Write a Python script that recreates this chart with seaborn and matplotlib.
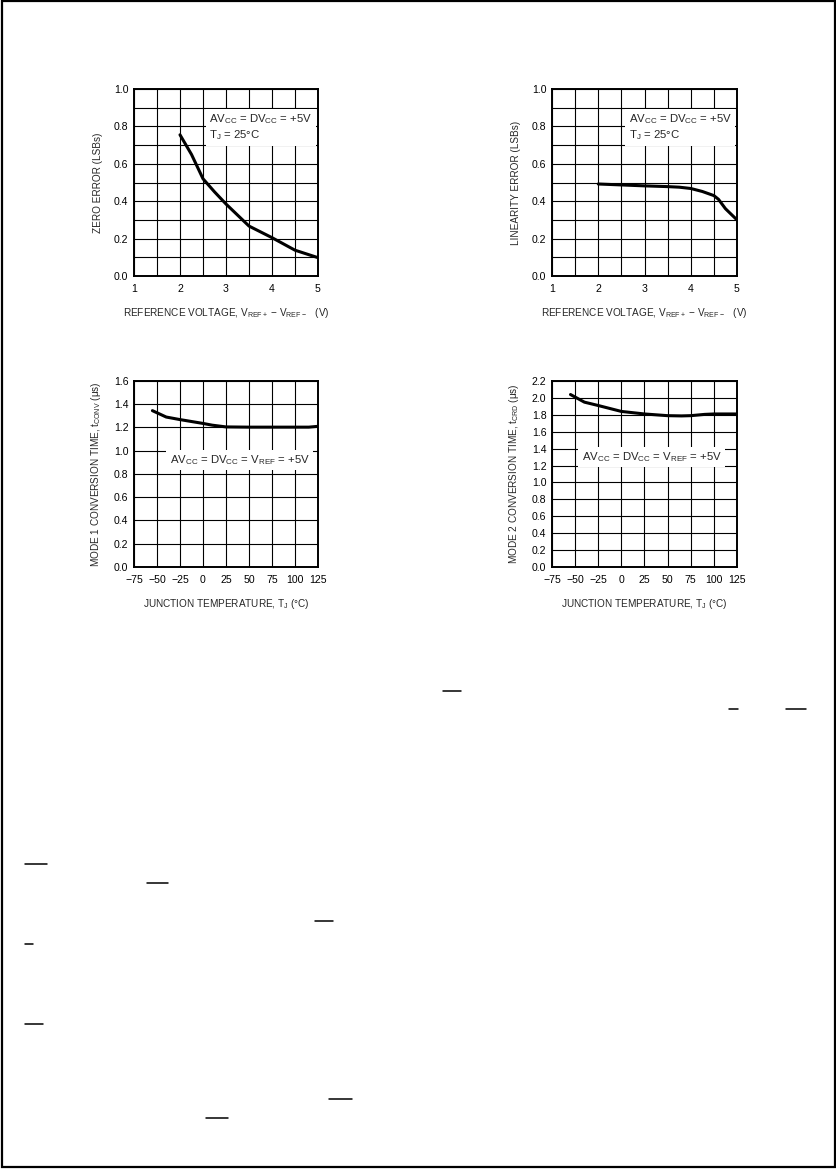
import matplotlib
matplotlib.use("Agg")
import matplotlib.pyplot as plt
from matplotlib.lines import Line2D
from matplotlib.patches import Rectangle
import numpy as np
import pandas as pd
import seaborn as sns

# ---------------- data ----------------
zero_x = [2.0, 2.25, 2.5, 2.75, 3.0, 3.5, 4.0, 4.5, 5.0]
zero_y = [0.755, 0.65, 0.52, 0.45, 0.385, 0.267, 0.205, 0.138, 0.098]

lin_x = [2.0, 2.5, 3.0, 3.5, 3.75, 4.0, 4.25, 4.5, 4.6, 4.75, 5.0]
lin_y = [0.492, 0.487, 0.482, 0.478, 0.475, 0.468, 0.452, 0.43, 0.41, 0.36, 0.30]

m1_x = [-55, -40, -25, 0, 10, 25, 50, 75, 100, 115, 125]
m1_y = [1.345, 1.29, 1.268, 1.235, 1.22, 1.205, 1.203, 1.203, 1.203, 1.203, 1.21]

m2_x = [-55, -40, -25, 0, 25, 50, 65, 75, 90, 100, 125]
m2_y = [2.04, 1.95, 1.91, 1.84, 1.81, 1.79, 1.787, 1.79, 1.805, 1.81, 1.81]

volt_ticks = [1, 2, 3, 4, 5]
temp_ticks = [-75, -50, -25, 0, 25, 50, 75, 100, 125]

# ---------------- style ----------------
sns.set_theme(style="white")
plt.rcParams["font.family"] = ["Liberation Sans", "DejaVu Sans"]
plt.rcParams["mathtext.fontset"] = "custom"
plt.rcParams["mathtext.rm"] = "Liberation Sans"
plt.rcParams["mathtext.it"] = "Liberation Sans"
plt.rcParams["mathtext.default"] = "regular"

W, H = 837, 1169
fig = plt.figure(figsize=(W / 100, H / 100), dpi=100)
fig.patch.set_facecolor("white")

TICK_FS = 7.6
LAB_FS = 7.2
ANN_FS = 8.2


def px_axes(x0, y0, x1, y1):
    return fig.add_axes([x0 / W, 1 - y1 / H, (x1 - x0) / W, (y1 - y0) / H])


def style_axes(ax, xlim, ylim, xmajor, xgrid, ymajor, ygrid, ylabfmt):
    ax.set_xlim(*xlim)
    ax.set_ylim(*ylim)
    ax.set_xticks(xgrid, minor=True)
    ax.set_yticks(ygrid, minor=True)
    ax.set_xticks(xmajor)
    ax.set_yticks(ymajor)
    ax.set_yticklabels([ylabfmt.format(v) for v in ymajor])
    ax.grid(True, which="both", color="black", linewidth=0.8)
    ax.set_axisbelow(True)
    for s in ax.spines.values():
        s.set_color("black")
        s.set_linewidth(1.4)
    ax.tick_params(axis="both", which="both", length=0, labelsize=TICK_FS,
                   colors="black", pad=4.0)
    ax.tick_params(axis="x", pad=5.5)


bbox = dict(facecolor="white", edgecolor="none", pad=2.5)

# ---- Top-left: zero error ----
ax1 = px_axes(134, 89, 318, 276)
sns.lineplot(x=zero_x, y=zero_y, ax=ax1, color="black", linewidth=2.2)
style_axes(ax1, (1, 5), (0, 1.0), volt_ticks, np.arange(1, 5.01, 0.5),
           np.round(np.arange(0, 1.01, 0.2), 1), np.arange(0, 1.01, 0.1), "{:.1f}")
ax1.set_ylabel("ZERO ERROR (LSBs)", fontsize=LAB_FS, labelpad=8)
ax1.set_xlabel("REFERENCE VOLTAGE, V$_{REF+}$ − V$_{REF−}$   (V)", fontsize=LAB_FS, labelpad=9)
ax1.text(2.64, 0.875, "AV$_{CC}$ = DV$_{CC}$ = +5V\nT$_J$ = 25°C", fontsize=ANN_FS,
         va="top", ha="left", bbox=bbox, linespacing=1.25)

# ---- Top-right: linearity error ----
ax2 = px_axes(552, 89, 737, 276)
sns.lineplot(x=lin_x, y=lin_y, ax=ax2, color="black", linewidth=2.2)
style_axes(ax2, (1, 5), (0, 1.0), volt_ticks, np.arange(1, 5.01, 0.5),
           np.round(np.arange(0, 1.01, 0.2), 1), np.arange(0, 1.01, 0.1), "{:.1f}")
ax2.set_ylabel("LINEARITY ERROR (LSBs)", fontsize=LAB_FS, labelpad=8)
ax2.set_xlabel("REFERENCE VOLTAGE, V$_{REF+}$ − V$_{REF−}$   (V)", fontsize=LAB_FS, labelpad=9)
ax2.text(2.66, 0.875, "AV$_{CC}$ = DV$_{CC}$ = +5V\nT$_J$ = 25°C", fontsize=ANN_FS,
         va="top", ha="left", bbox=bbox, linespacing=1.25)

# ---- Bottom-left: mode 1 conversion time ----
ax3 = px_axes(134, 381, 318, 567)
sns.lineplot(x=m1_x, y=m1_y, ax=ax3, color="black", linewidth=2.2)
style_axes(ax3, (-75, 125), (0, 1.6), temp_ticks, temp_ticks,
           np.round(np.arange(0, 1.61, 0.2), 1), np.arange(0, 1.61, 0.2), "{:.1f}")
ax3.set_ylabel("MODE 1 CONVERSION TIME, t$_{CONV}$ (μs)", fontsize=LAB_FS, labelpad=8)
ax3.set_xlabel("JUNCTION TEMPERATURE, T$_J$ (°C)", fontsize=LAB_FS, labelpad=9)
ax3.text(-36, 0.92, "AV$_{CC}$ = DV$_{CC}$ = V$_{REF}$ = +5V", fontsize=ANN_FS,
         va="center", ha="left", bbox=bbox)

# ---- Bottom-right: mode 2 conversion time ----
ax4 = px_axes(552, 381, 737, 567)
sns.lineplot(x=m2_x, y=m2_y, ax=ax4, color="black", linewidth=2.2)
style_axes(ax4, (-75, 125), (0, 2.2), temp_ticks, temp_ticks,
           np.round(np.arange(0, 2.21, 0.2), 1), np.arange(0, 2.21, 0.2), "{:.1f}")
ax4.set_ylabel("MODE 2 CONVERSION TIME, t$_{CRD}$ (μs)", fontsize=LAB_FS, labelpad=8)
ax4.set_xlabel("JUNCTION TEMPERATURE, T$_J$ (°C)", fontsize=LAB_FS, labelpad=9)
ax4.text(-43, 1.30, "AV$_{CC}$ = DV$_{CC}$ = V$_{REF}$ = +5V", fontsize=ANN_FS,
         va="center", ha="left", bbox=bbox)

# ---------------- page decoration ----------------
fig.add_artist(Rectangle((2 / W, 1 - 1167 / H), (835 - 2) / W, (1167 - 1) / H,
                         transform=fig.transFigure, fill=False,
                         edgecolor="black", linewidth=1.6))

overlines = [(443, 461, 691), (729, 738, 709), (786, 806, 709),
             (25, 47, 864), (147, 168, 883), (315, 333, 921), (25, 33, 944),
             (25, 43, 1024), (329, 352, 1099), (206, 228, 1118)]
for xa, xb, yy in overlines:
    fig.add_artist(Line2D([xa / W, xb / W], [1 - yy / H, 1 - yy / H],
                          transform=fig.transFigure, color="black", linewidth=1.1))

fig.savefig("out.png", dpi=100, facecolor="white")
